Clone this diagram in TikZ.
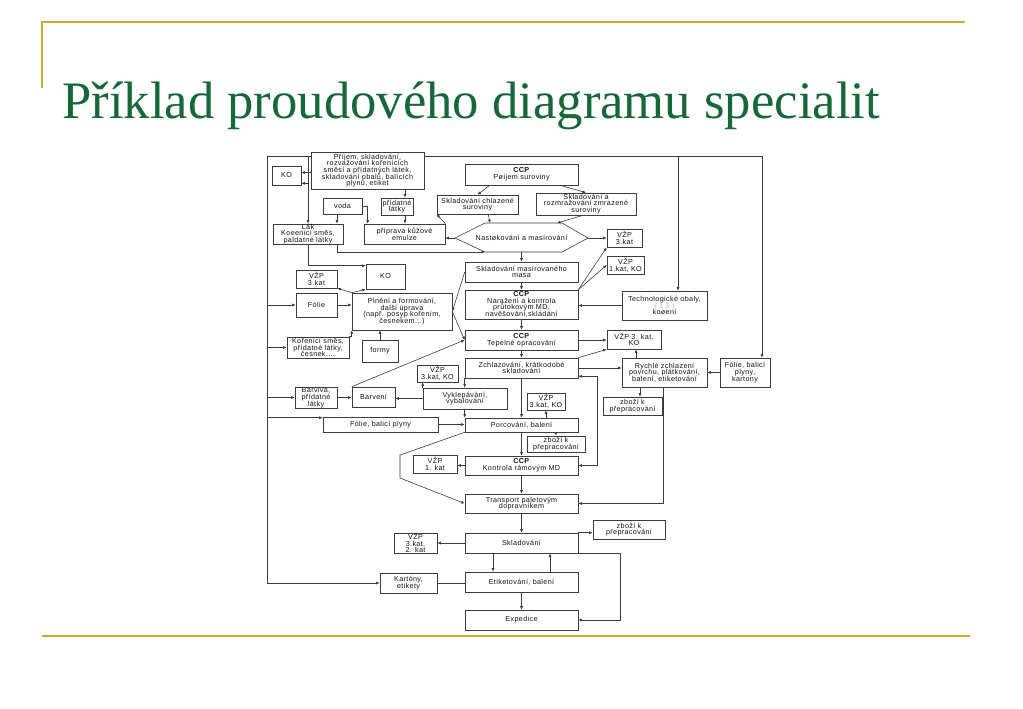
\documentclass[tikz,border=0pt]{standalone}
\usepackage{fontspec}
\setmainfont{Liberation Sans}
\newfontfamily\dfont[LetterSpace=5]{Liberation Sans}
\newfontfamily\titlefont{Liberation Serif}
\usetikzlibrary{arrows.meta,calc}
\setlength\lineskiplimit{-10pt}
\definecolor{gold}{RGB}{212,168,42}
\definecolor{tgreen}{RGB}{22,104,56}
\definecolor{lnc}{RGB}{60,60,60}
\newcommand\mkbox[6]{%
 \pgfmathsetmacro\bcx{(#2+#4)/2}%
 \pgfmathsetmacro\bcy{(#3+#5)/2}%
 \pgfmathsetmacro\bw{(#4-#2)*0.75}%
 \pgfmathsetmacro\bh{(#5-#3)*0.75}%
 \node[bxs,minimum width=\bw pt,minimum height=\bh pt] (#1) at (\bcx,\bcy) {#6};}
\begin{document}
\begin{tikzpicture}[x=0.75pt,y=-0.75pt,
 bxs/.style={draw=lnc,line width=0.45pt,fill=white,inner sep=0pt,align=center,
   font=\dfont\fontsize{5.4}{5.0}\selectfont,text=black!92},
 ln/.style={draw=lnc,line width=0.45pt},
 arr/.style={ln,-{Latex[length=2.6pt,width=2.2pt]}},
 dbl/.style={ln,{Latex[length=2.6pt,width=2.2pt]}-{Latex[length=2.6pt,width=2.2pt]}}]
\fill[white] (0,0) rectangle (1023,708);
\useasboundingbox (0,0) rectangle (1023,708);
% slide decoration
\draw[gold,line width=1.5pt] (42,88) -- (42,22) -- (965,22);
\draw[gold,line width=1.5pt] (42,636) -- (970,636);
\node[anchor=base west,inner sep=0pt,text=tgreen,font=\titlefont\fontsize{39.5}{44}\selectfont] (title) at (62,118) {Příklad proudového diagramu specialit};
% boxes
\mkbox{pri}{311}{152}{424}{189}{Příjem, skladování,\\rozvažování kořenících\\směsí a přídatných látek,\\skladování obalů, balících\\plynů, etiket}
\mkbox{ko1}{272}{166}{301}{185}{KO}
\mkbox{voda}{323}{198}{362}{214}{voda}
\mkbox{prid}{381}{198}{413}{215}{přídatné\\látky}
\mkbox{lak}{273}{224}{343}{244}{Lák\\Koeenicí směs,\\paldatné látky}
\mkbox{prip}{364}{224}{445}{244}{příprava kůžové\\emulze}
\mkbox{ccp1}{465}{164}{578}{185}{\textbf{CCP}\\Pøíjem suroviny}
\mkbox{sch}{437}{195}{518}{214}{Skladování chlazené\\suroviny}
\mkbox{szm}{536}{193}{636}{215}{Skladování a\\rozmražování zmrazené\\suroviny}
\mkbox{v3a}{607}{229}{642}{247}{VŽP\\3.kat}
\mkbox{v1a}{607}{256}{644}{274}{VŽP\\1.kat, KO}
\mkbox{smm}{465}{262}{578}{282}{Skladování masírovaného\\masa}
\mkbox{nar}{465}{290}{578}{319}{\textbf{CCP}\\Naražení a kontrola\\průtokovým MD,\\navěšování,skládání}
\mkbox{tech}{622}{291}{707}{320}{Technologické obaly,\\{\color{black!25}( 1 5 )}\\koøení}
\mkbox{v3b}{296}{270}{337}{288}{VŽP\\3.kat}
\mkbox{ko2}{366}{264}{405}{289}{KO}
\mkbox{fol1}{296}{293}{337}{317}{Fólie}
\mkbox{pln}{352}{293}{452}{330}{Plnění a formování,\\další úprava\\(např. posyp kořením,\\česnekem...)}
\mkbox{kor}{287}{337}{349}{358}{Kořenicí směs,\\přídatné látky,\\česnek....}
\mkbox{formy}{362}{340}{398}{362}{formy}
\mkbox{tep}{465}{330}{578}{350}{\textbf{CCP}\\Tepelné opracování}
\mkbox{v3c}{607}{330}{661}{349}{VŽP 3. kat,\\KO}
\mkbox{zch}{465}{358}{578}{378}{Zchlazování, krátkodobé\\skladování}
\mkbox{ryc}{622}{358}{707}{387}{Rychlé zchlazení\\povrchu, plátkování,\\balení, etiketování}
\mkbox{fbk}{720}{358}{770}{387}{Fólie, balicí\\plyny,\\kartony}
\mkbox{zb1}{603}{397}{662}{415}{zboží k\\přepracování}
\mkbox{v3d}{417}{365}{458}{382}{VŽP\\3.kat, KO}
\mkbox{vyk}{423}{388}{507}{409}{Vyklepávání,\\vybalování}
\mkbox{barv}{352}{387}{395}{407}{Barvení}
\mkbox{bvv}{295}{387}{337}{408}{Barviva,\\přídatné\\látky}
\mkbox{fbp}{323}{417}{438}{432}{Fólie, balicí plyny}
\mkbox{v3e}{527}{393}{565}{410}{VŽP\\3.kat, KO}
\mkbox{por}{465}{418}{578}{432}{Porcování, balení}
\mkbox{zb2}{527}{436}{585}{452}{zboží k\\přepracování}
\mkbox{kon}{465}{456}{578}{475}{\textbf{CCP}\\Kontrola rámovým MD}
\mkbox{v1b}{413}{455}{457}{473}{VŽP\\1. kat}
\mkbox{tra}{465}{494}{578}{513}{Transport paletovým\\dopravníkem}
\mkbox{skl}{465}{533}{578}{553}{Skladování}
\mkbox{v32}{394}{533}{437}{553}{VŽP\\3.kat,\\2. kat}
\mkbox{zb3}{593}{520}{665}{539}{zboží k\\přepracování}
\mkbox{eti}{465}{572}{578}{592}{Etiketování, balení}
\mkbox{kar}{380}{573}{437}{593}{Kartóny,\\etikety}
\mkbox{exp}{465}{610}{578}{630}{Expedice}
% hexagon
\coordinate (hL) at (455,238); \coordinate (hTL) at (485,223);
\coordinate (hTR) at (562,223); \coordinate (hR) at (588,238);
\coordinate (hBR) at (562,252); \coordinate (hBL) at (485,252);
\draw[ln,fill=white] (hL)--(hTL)--(hTR)--(hR)--(hBR)--(hBL)--cycle;
\node[inner sep=0pt,font=\dfont\fontsize{5.4}{5.0}\selectfont,text=black!92] (hex) at (521.5,238) {Nastøkování a masírování};
% helper coordinates
\coordinate (fTL) at (267,156); \coordinate (fTR) at (762,156); \coordinate (fT2) at (678,156);
\coordinate (xa) at (405,0); \coordinate (xb) at (337,0); \coordinate (xc) at (636,0);
\coordinate (xd) at (640,0); \coordinate (xe) at (663,0); \coordinate (xf) at (493,0);
\coordinate (xg) at (550,0);
% frame
\draw[ln] (fTL) -- (pri.west |- fTL);
\draw[ln] (pri.east |- fTL) -- (fTR);
\draw[arr] (fTR) -- (fbk.north -| fTR);
\draw[arr] (fT2) -- (tech.north -| fT2);
\draw[arr] (fTL) |- (kar.west);
\draw[arr] (fTL -| lak.north) -- (lak.north);
\draw[arr] (fTL |- fol1.west) -- (fol1.west);
\draw[arr] (fTL |- kor.west) -- (kor.west);
\draw[arr] (fTL |- bvv.west) -- (bvv.west);
\draw[arr] ($(fTL |- fbp.north west)+(0,1)$) -- ($(fbp.north west)+(0,1)$);
% upper part
\draw[arr] ($(pri.west |- ko1.east)+(0,-3)$) -- ($(ko1.east)+(0,-3)$);
\draw[arr] ($(lak.north |- ko1.south east)+(0,-2)$) -- ($(ko1.south east)+(0,-2)$);
\draw[arr] (pri.south -| xa) -- (prid.north -| xa);
\draw[arr] (prid.south -| xa) -- (prip.north -| xa);
\draw[arr] (voda.south -| xb) -- (lak.north -| xb);
\draw[arr] (voda.east) -| ($(prip.north west)+(4,0)$);
\draw[arr] (lak.south -| xb) |- (hBL);
\draw[arr] (lak.south) |- ($(ko2.north west)+(0,2)$);
\draw[arr] (hL) -- (prip.east |- hL);
\draw[arr] (prip.north east) -- (sch.south west);
\draw[arr] ($(ccp1.south west)+(25,0)$) -- (sch.north);
\draw[arr] ($(ccp1.south east)+(-18,0)$) -- (szm.north);
\draw[arr] ($(sch.south east)+(-30,0)$) -- ($(hTL)+(5,0)$);
\draw[arr] ($(szm.south)+(-3,0)$) -- ($(hTR)+(-5,0)$);
\draw[arr] (hR) -- (v3a.west |- hR);
\draw[arr] (smm.north |- hBL) -- (smm.north);
\draw[arr] (smm.south) -- (nar.north);
\draw[arr] (nar.south) -- (tep.north);
\draw[arr] (tep.south) -- (zch.north);
\draw[arr] (nar.north east) -- (v3a.south west);
\draw[arr] (nar.north east) -- (v1a.west);
\draw[arr] (tech.west) -- (nar.east |- tech.west);
\draw[arr] (smm.west) -- (pln.east);
\draw[arr] (pln.east) -- (tep.west);
\draw[arr] (barv.north west) -- (tep.west);
\draw[arr] (pln.north west) -- (v3b.south east);
\draw[arr] (pln.north west) -- (ko2.south west);
\draw[arr] (fol1.east) -- (pln.west |- fol1.east);
\draw[arr] (kor.north east) -| (pln.south west);
\draw[arr] (formy.north) -- (pln.south -| formy.north);
\draw[arr] (tep.east) -- (v3c.west |- tep.east);
\draw[arr] (zch.north east) -- (v3c.south west);
\draw[arr] (zch.east) -- (ryc.west |- zch.east);
\draw[arr] (ryc.north -| xc) -- (v3c.south -| xc);
\draw[arr] (fbk.west) -- (ryc.east |- fbk.west);
\draw[arr] (ryc.south -| xd) -- (zb1.north -| xd);
\draw[arr] (ryc.south -| xe) |- (tra.east);
% middle part
\draw[arr] (zch.south west) -- (vyk.north -| zch.south west);
\draw[arr] (zch.south) -- (por.north);
\draw[arr] (vyk.north west) -- (v3d.south -| vyk.north west);
\draw[arr] (vyk.west) -- (barv.east |- vyk.west);
\draw[arr] (bvv.east) -- (barv.west |- bvv.east);
\draw[arr] (vyk.south -| por.north west) -- (por.north west);
\draw[arr] (fbp.east) -- (por.west |- fbp.east);
\draw[arr] (por.north -| v3e.south) -- (v3e.south);
\draw[arr] (por.south -| zb2.north) -- (zb2.north);
\draw[arr] (por.south) -- (kon.north);
\coordinate (bk) at (597,420);
\draw[dbl] ($(zch.south east)+(0,-2)$) -| (bk) |- (kon.east);
\draw[arr] (kon.west) -- (v1b.east |- kon.west);
\coordinate (bp1) at (400,455); \coordinate (bp2) at (400,478);
\draw[arr] (por.south west) -- (bp1) -- (bp2) -- (tra.west);
% lower part
\draw[arr] (kon.south) -- (tra.north);
\draw[arr] (tra.south) -- (skl.north);
\draw[arr] (skl.west) -- (v32.east);
\draw[arr] (skl.north east) -- (zb3.west |- skl.north east);
\draw[arr] (skl.south -| xf) -- (eti.north -| xf);
\draw[arr] (eti.north -| xg) -- (skl.south -| xg);
\draw[ln] (kar.east) -- (eti.west |- kar.east);
\draw[arr] (eti.south) -- (exp.north);
\coordinate (ec) at (620,590);
\draw[arr] (skl.south east) -| (ec) |- (exp.east);
\end{tikzpicture}
\end{document}
